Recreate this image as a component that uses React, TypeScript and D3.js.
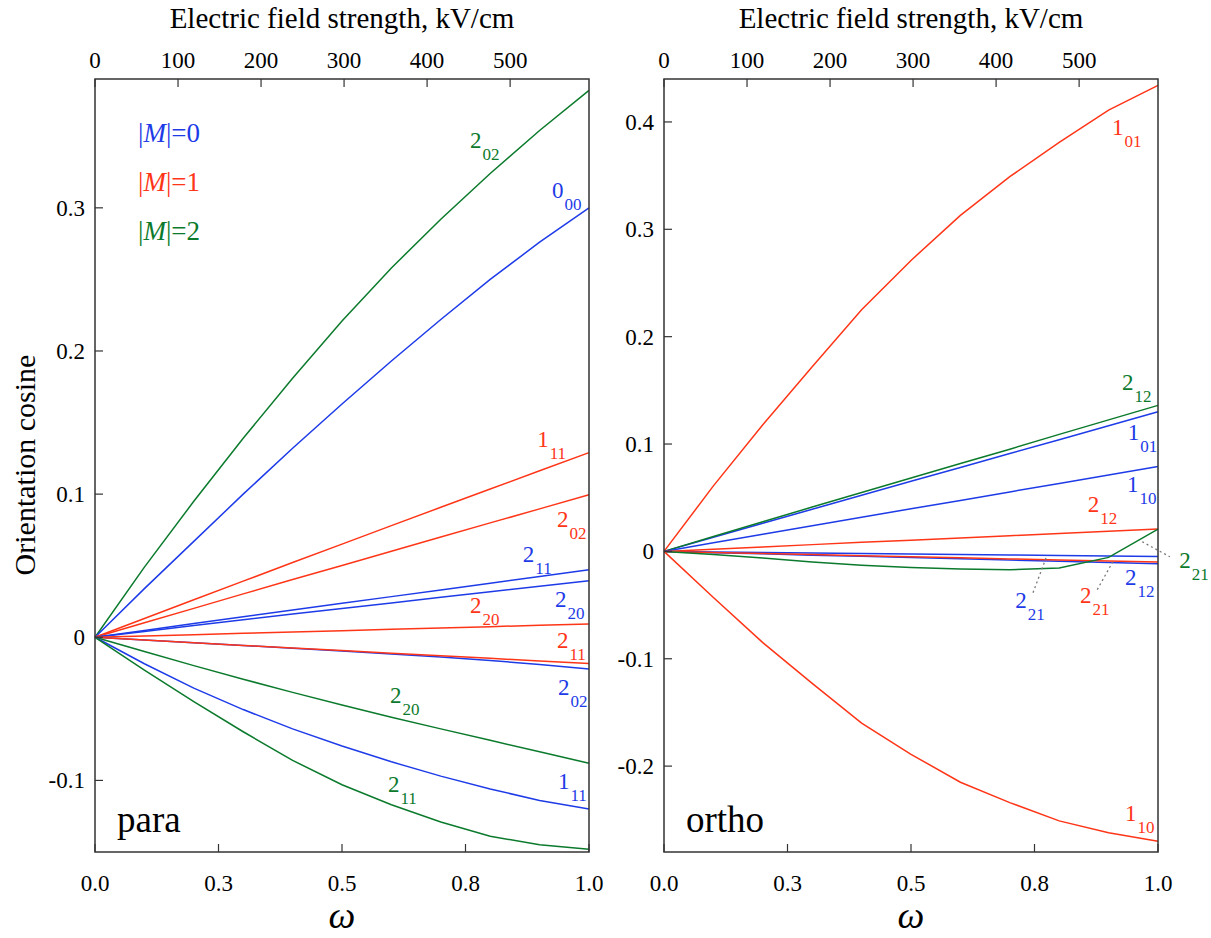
import React from "react";
import * as d3 from "d3";

// ---------- data ----------
const omega = [0, 0.1, 0.2, 0.3, 0.4, 0.5, 0.6, 0.7, 0.8, 0.9, 1.0];

// para panel
const para_M2_202 = [0, 0.049, 0.095, 0.139, 0.181, 0.221, 0.258, 0.292, 0.324, 0.354, 0.382];
const para_M0_000 = [0, 0.034, 0.067, 0.100, 0.132, 0.163, 0.193, 0.222, 0.250, 0.276, 0.300];
const para_M1_111 = [0, 0.0131, 0.0262, 0.0392, 0.0522, 0.0651, 0.0780, 0.0908, 0.1036, 0.1163, 0.129];
const para_M1_202 = [0, 0.0101, 0.0202, 0.0303, 0.0403, 0.0502, 0.0601, 0.0700, 0.0799, 0.0897, 0.0995];
const para_M0_211 = [0, 0.0048, 0.0096, 0.0143, 0.0190, 0.0237, 0.0284, 0.0331, 0.0378, 0.0425, 0.0472];
const para_M0_220 = [0, 0.0041, 0.0082, 0.0122, 0.0162, 0.0201, 0.0240, 0.0279, 0.0318, 0.0357, 0.0395];
const para_M1_220 = [0, 0.0009, 0.0018, 0.0028, 0.0037, 0.0046, 0.0056, 0.0065, 0.0074, 0.0084, 0.0093];
const para_M1_211 = [0, -0.0019, -0.0038, -0.0057, -0.0075, -0.0093, -0.0111, -0.0129, -0.0147, -0.0166, -0.0184];
const para_M0_202 = [0, -0.0019, -0.0038, -0.0057, -0.0076, -0.0096, -0.0116, -0.0137, -0.0162, -0.0190, -0.0221];
const para_M2_220 = [0, -0.0100, -0.0198, -0.0293, -0.0385, -0.0473, -0.0558, -0.0640, -0.0720, -0.0800, -0.0880];
const para_M0_111 = [0, -0.0185, -0.0355, -0.0505, -0.0640, -0.0760, -0.0870, -0.0970, -0.1060, -0.1140, -0.1200];
const para_M2_211 = [0, -0.023, -0.045, -0.066, -0.086, -0.103, -0.117, -0.129, -0.139, -0.145, -0.148];

// ortho panel
const ortho_M1_101 = [0, 0.061, 0.118, 0.172, 0.225, 0.271, 0.313, 0.349, 0.381, 0.411, 0.434];
const ortho_M2_212 = [0, 0.0138, 0.0276, 0.0413, 0.0549, 0.0684, 0.0818, 0.0952, 0.1090, 0.1225, 0.136];
const ortho_M0_101 = [0, 0.0131, 0.0262, 0.0393, 0.0523, 0.0653, 0.0782, 0.0911, 0.1040, 0.1170, 0.130];
const ortho_M0_110 = [0, 0.0080, 0.0160, 0.0239, 0.0318, 0.0397, 0.0475, 0.0554, 0.0633, 0.0712, 0.079];
const ortho_M1_212 = [0, 0.0021, 0.0042, 0.0063, 0.0084, 0.0104, 0.0125, 0.0146, 0.0166, 0.0187, 0.0208];
const ortho_M0_221 = [0, -0.0005, -0.0010, -0.0014, -0.0019, -0.0024, -0.0028, -0.0033, -0.0038, -0.0042, -0.0047];
const ortho_M1_221 = [0, -0.0010, -0.0020, -0.0030, -0.0040, -0.0050, -0.0060, -0.0070, -0.0080, -0.0090, -0.0099];
const ortho_M0_212 = [0, -0.0012, -0.0023, -0.0035, -0.0046, -0.0058, -0.0069, -0.0081, -0.0092, -0.0104, -0.0115];
const ortho_M2_221 = [0, -0.0030, -0.0062, -0.0098, -0.0128, -0.0149, -0.0164, -0.0171, -0.0155, -0.0056, 0.0208];
const ortho_M1_110 = [0, -0.043, -0.085, -0.123, -0.160, -0.189, -0.215, -0.234, -0.251, -0.262, -0.270];

// axes
const omegaTicks = [0, 0.25, 0.5, 0.75, 1.0];
const omegaTickLabels = ["0.0", "0.3", "0.5", "0.8", "1.0"];
const fieldMax = 595;
const fieldTicks = [0, 100, 200, 300, 400, 500];
const paraYTicks = [-0.1, 0, 0.1, 0.2, 0.3];
const paraYTickLabels = ["-0.1", "0", "0.1", "0.2", "0.3"];
const orthoYTicks = [-0.2, -0.1, 0, 0.1, 0.2, 0.3, 0.4];
const orthoYTickLabels = ["-0.2", "-0.1", "0", "0.1", "0.2", "0.3", "0.4"];
const paraYDomain = [-0.15, 0.39];
const orthoYDomain = [-0.28, 0.44];

const legendLabels = ["0", "1", "2"];

// ---------- styles ----------
const COLORS: Record<string, string> = { M0: "#1e3be8", M1: "#ff3517", M2: "#0b7a2c" };
const FONT = "Liberation Serif, Times New Roman, serif";

type Series = { values: number[]; m: string };
type Label = { main: string; sub: string; m: string; w: number; v: number };
type Leader = { w1: number; v1: number; w2: number; v2: number };

const paraSeries: Series[] = [
  { values: para_M2_202, m: "M2" },
  { values: para_M0_000, m: "M0" },
  { values: para_M1_111, m: "M1" },
  { values: para_M1_202, m: "M1" },
  { values: para_M0_211, m: "M0" },
  { values: para_M0_220, m: "M0" },
  { values: para_M1_220, m: "M1" },
  { values: para_M0_202, m: "M0" },
  { values: para_M1_211, m: "M1" },
  { values: para_M2_220, m: "M2" },
  { values: para_M0_111, m: "M0" },
  { values: para_M2_211, m: "M2" },
];

const orthoSeries: Series[] = [
  { values: ortho_M1_101, m: "M1" },
  { values: ortho_M0_101, m: "M0" },
  { values: ortho_M2_212, m: "M2" },
  { values: ortho_M0_110, m: "M0" },
  { values: ortho_M1_212, m: "M1" },
  { values: ortho_M0_221, m: "M0" },
  { values: ortho_M0_212, m: "M0" },
  { values: ortho_M1_221, m: "M1" },
  { values: ortho_M2_221, m: "M2" },
  { values: ortho_M1_110, m: "M1" },
];

const paraLabels: Label[] = [
  { main: "2", sub: "02", m: "M2", w: 0.759, v: 0.3415 },
  { main: "0", sub: "00", m: "M0", w: 0.925, v: 0.307 },
  { main: "1", sub: "11", m: "M1", w: 0.895, v: 0.133 },
  { main: "2", sub: "02", m: "M1", w: 0.935, v: 0.0773 },
  { main: "2", sub: "11", m: "M0", w: 0.866, v: 0.0528 },
  { main: "2", sub: "20", m: "M1", w: 0.759, v: 0.0173 },
  { main: "2", sub: "20", m: "M0", w: 0.931, v: 0.0214 },
  { main: "2", sub: "11", m: "M1", w: 0.935, v: -0.0072 },
  { main: "2", sub: "02", m: "M0", w: 0.937, v: -0.040 },
  { main: "2", sub: "20", m: "M2", w: 0.597, v: -0.0456 },
  { main: "1", sub: "11", m: "M0", w: 0.937, v: -0.1063 },
  { main: "2", sub: "11", m: "M2", w: 0.593, v: -0.1084 },
];

const orthoLabels: Label[] = [
  { main: "1", sub: "01", m: "M1", w: 0.907, v: 0.3876 },
  { main: "2", sub: "12", m: "M2", w: 0.927, v: 0.1504 },
  { main: "1", sub: "01", m: "M0", w: 0.939, v: 0.1039 },
  { main: "1", sub: "10", m: "M0", w: 0.937, v: 0.0555 },
  { main: "2", sub: "12", m: "M1", w: 0.858, v: 0.0369 },
  { main: "2", sub: "12", m: "M0", w: 0.933, v: -0.031 },
  { main: "2", sub: "21", m: "M0", w: 0.711, v: -0.0524 },
  { main: "2", sub: "21", m: "M1", w: 0.842, v: -0.0477 },
  { main: "2", sub: "21", m: "M2", w: 1.043, v: -0.0152 },
  { main: "1", sub: "10", m: "M1", w: 0.933, v: -0.2514 },
];

const orthoLeaders: Leader[] = [
  { w1: 0.747, v1: -0.0385, w2: 0.775, v2: -0.0041 },
  { w1: 0.877, v1: -0.0356, w2: 0.911, v2: -0.0077 },
  { w1: 0.968, v1: 0.009, w2: 1.024, v2: -0.005 },
];

const TOP = 79;
const BOTTOM = 852;

function Panel(props: {
  x0: number; x1: number; yDomain: number[]; yTicks: number[]; yTickLabels: string[];
  series: Series[]; labels: Label[]; leaders: Leader[]; name: string; legend: boolean;
}) {
  const { x0, x1, yDomain, yTicks, yTickLabels, series, labels, leaders, name, legend } = props;
  const x = d3.scaleLinear().domain([0, 1]).range([x0, x1]);
  const xTop = d3.scaleLinear().domain([0, fieldMax]).range([x0, x1]);
  const y = d3.scaleLinear().domain(yDomain).range([BOTTOM, TOP]);
  const line = d3.line<number>().x((_, i) => x(omega[i])).y((d) => y(d));
  const axisColor = "#333";
  const cx = (x0 + x1) / 2;
  return (
    <g>
      {series.map((s, i) => (
        <path key={i} d={line(s.values) || ""} fill="none" stroke={COLORS[s.m]} strokeWidth={1.5} />
      ))}
      {leaders.map((l, i) => (
        <line key={i} x1={x(l.w1)} y1={y(l.v1)} x2={x(l.w2)} y2={y(l.v2)}
          stroke="#777" strokeWidth={1.3} strokeDasharray="2,3" />
      ))}
      <rect x={x0} y={TOP} width={x1 - x0} height={BOTTOM - TOP} fill="none" stroke={axisColor} strokeWidth={1.5} />
      {omegaTicks.map((t, i) => (
        <g key={"b" + i}>
          <line x1={x(t)} x2={x(t)} y1={BOTTOM} y2={BOTTOM - 8} stroke={axisColor} strokeWidth={1.2} />
          <text x={x(t)} y={891} textAnchor="middle" fontSize={23}>{omegaTickLabels[i]}</text>
        </g>
      ))}
      {fieldTicks.map((t, i) => (
        <g key={"t" + i}>
          <line x1={xTop(t)} x2={xTop(t)} y1={TOP} y2={TOP + 8} stroke={axisColor} strokeWidth={1.2} />
          <text x={xTop(t)} y={68} textAnchor="middle" fontSize={23}>{t}</text>
        </g>
      ))}
      {yTicks.map((t, i) => (
        <g key={"l" + i}>
          <line x1={x0} x2={x0 + 8} y1={y(t)} y2={y(t)} stroke={axisColor} strokeWidth={1.2} />
          <text x={x0 - 10} y={y(t) + 8} textAnchor="end" fontSize={23}>{yTickLabels[i]}</text>
        </g>
      ))}
      <text x={cx} y={28} textAnchor="middle" fontSize={29}>Electric field strength, kV/cm</text>
      <text x={cx} y={928} textAnchor="middle" fontSize={38} fontStyle="italic">ω</text>
      <text x={x0 + 22} y={832} fontSize={37}>{name}</text>
      {labels.map((l, i) => (
        <text key={"lab" + i} x={x(l.w)} y={y(l.v)} fill={COLORS[l.m]} fontSize={23}>
          {l.main}
          <tspan fontSize={17} dy={12} dx={1}>{l.sub}</tspan>
        </text>
      ))}
      {legend && legendLabels.map((t, i) => (
        <text key={"lg" + i} x={x0 + 43} y={142 + i * 49} fill={COLORS["M" + i]} fontSize={27}>
          |<tspan fontStyle="italic">M</tspan>|={t}
        </text>
      ))}
    </g>
  );
}

export default function App() {
  return (
    <svg width={1211} height={938} fontFamily={FONT}
      style={{ position: "absolute", left: 0, top: 0, background: "#fff", fontFamily: FONT }}>
      <rect width={1211} height={938} fill="#fff" />
      <Panel x0={95} x1={589} yDomain={paraYDomain} yTicks={paraYTicks} yTickLabels={paraYTickLabels}
        series={paraSeries} labels={paraLabels} leaders={[]} name="para" legend={true} />
      <Panel x0={664} x1={1158} yDomain={orthoYDomain} yTicks={orthoYTicks} yTickLabels={orthoYTickLabels}
        series={orthoSeries} labels={orthoLabels} leaders={orthoLeaders} name="ortho" legend={false} />
      <text transform="translate(35,465) rotate(-90)" textAnchor="middle" fontSize={30}>
        Orientation cosine
      </text>
    </svg>
  );
}
